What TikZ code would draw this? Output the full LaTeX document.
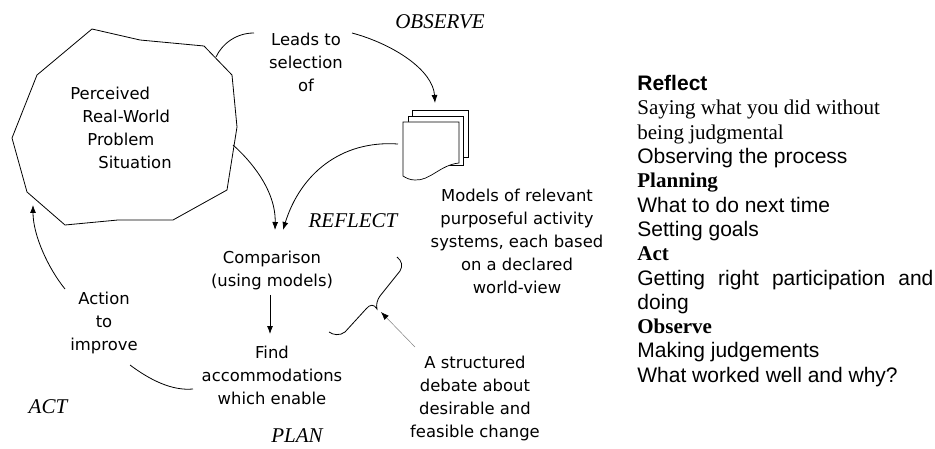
\documentclass[tikz,border=0pt]{standalone}
\usepackage{fontspec}
\setmainfont{Liberation Serif}
\newfontfamily\handfont{DejaVu Sans}
\newfontfamily\arialfont{Liberation Sans}
\usetikzlibrary{arrows.meta}

\begin{document}
\begin{tikzpicture}[x=1pt, y=-1pt,
  line width=0.8pt,
  tip/.style={-{Latex[length=8pt,width=6pt]}},
  hand/.style={font=\handfont\fontsize{16.4}{23}\selectfont, align=center, inner sep=0pt},
  phase/.style={font=\fontsize{21}{24}\selectfont\itshape, inner sep=0pt},
  sheet/.style={draw, fill=white, line width=0.7pt},
  pointer/.style={draw=gray, line width=0.5pt, -{Latex[length=8pt,width=6pt,fill=black,color=black]}},
]
\useasboundingbox (0,0) rectangle (935,449);

% the rich picture of the problem situation
\draw (92,29) -- (140,40) -- (204,46) -- (232,75) -- (237,127) -- (227,190)
  -- (173,220) -- (118,220) -- (65,225) -- (27,192) -- (12,138) -- (37,75) -- cycle;
\node[hand, align=left, anchor=west] (problem) at (70,128)
  {Perceived\\\hspace*{12pt}Real-World\\\hspace*{17pt}Problem\\\hspace*{28pt}Situation};
\coordinate (prob-ne) at (216,57);
\coordinate (prob-e)  at (233,145);
\coordinate (prob-sw) at (33,205);

% stack of model sheets
\draw[sheet] (412,110) rectangle (468,157);
\draw[sheet] (408,116) rectangle (463,165);
\draw[sheet] (403,122) -- (459,122) -- (459,163)
  .. controls (440,165) and (430,181) .. (415,180)
  .. controls (410,180) and (406,178) .. (403,176) -- cycle;
\coordinate (docs-n) at (435,103);
\coordinate (docs-w) at (398,144);

% texts of the cycle
\node[hand] (leads) at (306,62) {Leads to\\selection\\of};
\coordinate (leads-w) at (254,33);
\coordinate (leads-e) at (352,33);
\node[phase] (observe) at (440,22) {OBSERVE};
\node[hand] (models) at (517,241)
  {Models of relevant\\purposeful activity\\systems, each based\\on a declared\\world-view};
\node[phase] (reflect) at (353,221) {REFLECT};
\node[hand] (compare) at (272,270) {Comparison\\(using models)};
\coordinate (compare-nw) at (275,230);
\coordinate (compare-ne) at (283,230);
\coordinate (compare-s) at (270,295);
\node[hand] (find) at (272,375) {Find\\accommodations\\which enable};
\coordinate (find-n) at (270,334);
\coordinate (find-w) at (193,389);
\node[hand] (action) at (104,323) {Action\\to\\improve};
\coordinate (action-se) at (130,365);
\coordinate (action-n) at (65,289);
\node[phase] (act) at (48,407) {ACT};
\node[phase] (plan) at (297,436) {PLAN};
\node[hand] (debate) at (475,398)
  {A structured\\debate about\\desirable and\\feasible change};
\coordinate (debate-n) at (415,347);
\coordinate (brace-tip) at (381,312);

% connectors
\draw (prob-ne) .. controls (222,44) and (236,33) .. (leads-w);
\draw[tip] (leads-e) .. controls (393,44) and (433,70) .. (docs-n);
\draw[tip] (prob-e) .. controls (250,160) and (276,190) .. (compare-nw);
\draw[tip] (docs-w) .. controls (340,140) and (300,175) .. (compare-ne);
\draw[tip] (compare-s) -- (find-n);
\draw (find-w) .. controls (172,391) and (150,380) .. (action-se);
\draw[tip] (action-n) .. controls (48,268) and (33,235) .. (prob-sw);

% the debate, drawn as a slanted brace
\draw (397,257) .. controls (402,261) and (403,266) .. (400,271) -- (380,296)
  .. controls (377,300) and (376,305) .. (377,309)
  .. controls (374,304) and (370,304) .. (366,309) -- (345,332)
  .. controls (340,336) and (333,335) .. (329,332);
\draw[pointer] (debate-n) -- (brace-tip);

% notes on the four phases
\node[anchor=north west, inner sep=0pt, align=left,
      font=\fontsize{21}{24.3}\selectfont] (notes) at (637,75) {%
  {\arialfont\bfseries Reflect}\\
  Saying what you did without\\
  being judgmental\\
  {\arialfont Observing the process}\\
  \textbf{Planning}\\
  {\arialfont What to do next time}\\
  {\arialfont Setting goals}\\
  \textbf{Act}\\
  {\arialfont\makebox[296pt][s]{Getting right participation and}}\\
  {\arialfont doing}\\
  \textbf{Observe}\\
  {\arialfont Making judgements}\\
  {\arialfont What worked well and why?}};
\end{tikzpicture}
\end{document}
